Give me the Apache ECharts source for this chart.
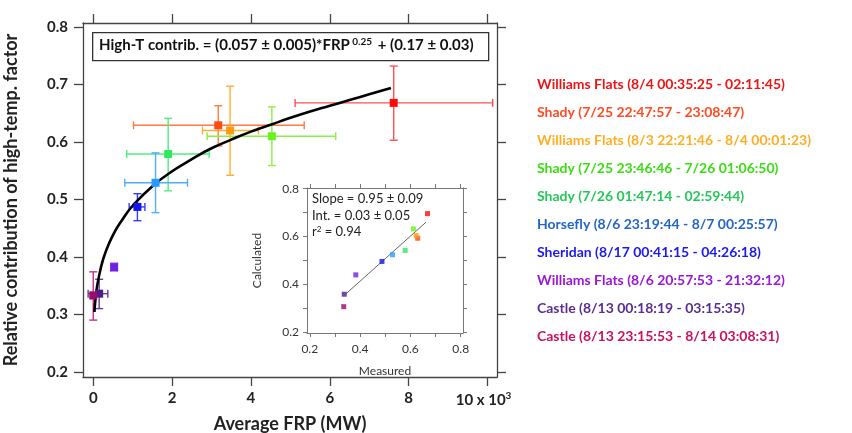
<!DOCTYPE html>
<html><head><meta charset="utf-8">
<script src="https://cdn.jsdelivr.net/npm/echarts@6/dist/echarts.min.js"></script>
<style>html,body{margin:0;padding:0;background:#fff}#c{width:852px;height:433px}</style>
</head><body><div id="c"></div>
<script>
const names = [
  'Williams Flats (8/4 00:35:25 - 02:11:45)',
  'Shady (7/25 22:47:57 - 23:08:47)',
  'Williams Flats (8/3 22:21:46 - 8/4 00:01:23)',
  'Shady (7/25 23:46:46 - 7/26 01:06:50)',
  'Shady (7/26 01:47:14 - 02:59:44)',
  'Horsefly (8/6 23:19:44 - 8/7 00:25:57)',
  'Sheridan (8/17 00:41:15 - 04:26:18)',
  'Williams Flats (8/6 20:57:53 - 21:32:12)',
  'Castle (8/13 00:18:19 - 03:15:35)',
  'Castle (8/13 23:15:53 - 8/14 03:08:31)'
];
const markerColors = ['#ff0a0a','#ff4a10','#ff9a10','#6cf020','#30e860','#2a98ff','#1414f0','#7020e0','#4e1c86','#9a0a6a'];
const barColors    = ['#ff5050','#ff7a45','#ffae35','#8cf048','#50ec80','#50acff','#3a3aff','#8a44ee','#6a3aa0','#c0308a'];
const legendColors = ['#ee1414','#ff4a22','#ffae22','#3ade12','#24c858','#2466c8','#1a1af0','#9a16d8','#5c2d91','#cc1060'];

// main panel: average FRP (x10^3 MW) and relative contribution
const frp      = [7.62, 3.17, 3.47, 4.53, 1.90, 1.58, 1.12, 0.53, 0.15, 0.00];
const frpLow   = [5.12, 1.02, 2.77, 2.89, 0.85, 0.80, 0.91, 0.46, -0.13, -0.06];
const frpHigh  = [10.13, 5.35, 4.19, 6.15, 2.94, 2.39, 1.31, 0.60, 0.37, 0.06];
const contrib     = [0.668, 0.629, 0.620, 0.610, 0.579, 0.529, 0.487, 0.382, 0.336, 0.333];
const contribLow  = [0.603, 0.593, 0.542, 0.559, 0.515, 0.477, 0.463, 0.376, 0.310, 0.290];
const contribHigh = [0.732, 0.663, 0.697, 0.661, 0.641, 0.581, 0.510, 0.389, 0.361, 0.374];

// fit curve
const curveX = [0.03, 0.05, 0.1, 0.2, 0.3, 0.5, 0.75, 1.0, 1.5, 2.0, 2.5, 3.0, 3.5, 4.0, 4.5, 5.0, 5.5, 6.0, 6.5, 7.0, 7.55];
const curveY = [0.304, 0.322, 0.350, 0.383, 0.406, 0.438, 0.466, 0.489, 0.523, 0.549, 0.570, 0.589, 0.604, 0.618, 0.630, 0.642, 0.653, 0.663, 0.673, 0.683, 0.694];

// inset: measured vs calculated
const measured   = [0.668, 0.629, 0.623, 0.612, 0.579, 0.529, 0.487, 0.383, 0.337, 0.335];
const calculated = [0.696, 0.593, 0.604, 0.632, 0.542, 0.524, 0.496, 0.440, 0.359, 0.307];
const regX = [0.344, 0.662];
const regY = [0.361, 0.660];

const xTicks = [0, 2, 4, 6, 8, 10];
const yTicks = [0.2, 0.3, 0.4, 0.5, 0.6, 0.7, 0.8];
const insetLabels = [0.2, 0.4, 0.6, 0.8];
const insetTicks = [0.2, 0.3, 0.4, 0.5, 0.6, 0.7, 0.8];

const FONT = 'Lato';
const chart = echarts.init(document.getElementById('c'), null, {renderer: 'canvas'});

const G = {left: 83, top: 23, right: 355, bottom: 56};
const GI = {left: 307, top: 188, width: 156, height: 145};

function mainAxisCommon(extra) {
  return Object.assign({
    axisLine: {show: true, onZero: false, lineStyle: {color: '#444', width: 1.3}},
    splitLine: {show: false}
  }, extra);
}
function insetAxisCommon(extra) {
  return Object.assign({
    axisLine: {show: true, onZero: false, lineStyle: {color: '#777', width: 1}},
    axisTick: {show: true, inside: false, length: 4, lineStyle: {color: '#777', width: 1}, customValues: insetTicks},
    splitLine: {show: false}
  }, extra);
}
const mainTick = vals => ({show: true, inside: false, length: 9, lineStyle: {color: '#444', width: 1.3}, customValues: vals});

const series = [];
// error bars
names.forEach((n, i) => {
  series.push({
    type: 'custom', name: n, xAxisIndex: 0, yAxisIndex: 0, clip: false, z: 3,
    data: [[frp[i], contrib[i], frpLow[i], frpHigh[i], contribLow[i], contribHigh[i]]],
    encode: {x: [0, 2, 3], y: [1, 4, 5]},
    renderItem: function (params, api) {
      const c = api.coord([api.value(0), api.value(1)]);
      const xl = api.coord([api.value(2), api.value(1)]);
      const xh = api.coord([api.value(3), api.value(1)]);
      const yl = api.coord([api.value(0), api.value(4)]);
      const yh = api.coord([api.value(0), api.value(5)]);
      const cap = 4;
      const st = {stroke: barColors[i], lineWidth: 1.4};
      const ln = (x1, y1, x2, y2) => ({type: 'line', shape: {x1, y1, x2, y2}, style: st});
      return {type: 'group', children: [
        ln(xl[0], c[1], xh[0], c[1]),
        ln(xl[0], c[1] - cap, xl[0], c[1] + cap),
        ln(xh[0], c[1] - cap, xh[0], c[1] + cap),
        ln(c[0], yl[1], c[0], yh[1]),
        ln(c[0] - cap, yl[1], c[0] + cap, yl[1]),
        ln(c[0] - cap, yh[1], c[0] + cap, yh[1])
      ]};
    }
  });
});
// fit curve
series.push({
  type: 'line', xAxisIndex: 0, yAxisIndex: 0, data: curveX.map((x, k) => [x, curveY[k]]),
  smooth: true, showSymbol: false, symbol: 'none', z: 4,
  lineStyle: {color: '#000', width: 2.6}
});
// markers
names.forEach((n, i) => {
  series.push({
    type: 'scatter', name: n, xAxisIndex: 0, yAxisIndex: 0, z: 5,
    symbol: 'rect', symbolSize: 8,
    itemStyle: {color: markerColors[i], opacity: 1},
    data: [[frp[i], contrib[i]]]
  });
});
// inset regression line
series.push({
  type: 'line', xAxisIndex: 2, yAxisIndex: 2, data: regX.map((x, k) => [x, regY[k]]),
  showSymbol: false, symbol: 'none', z: 6, lineStyle: {color: '#666', width: 1}
});
// inset points
series.push({
  type: 'scatter', xAxisIndex: 2, yAxisIndex: 2, symbol: 'rect', symbolSize: 5, z: 7,
  data: measured.map((m, i) => ({value: [m, calculated[i]], itemStyle: {color: markerColors[i]}}))
});

const option = {
  animation: false,
  backgroundColor: '#fff',
  textStyle: {fontFamily: FONT},
  grid: [
    Object.assign({show: true, backgroundColor: '#fff', borderWidth: 0, containLabel: false, outerBoundsMode: 'none'}, G),
    Object.assign({show: true, backgroundColor: '#fff', borderWidth: 0, containLabel: false, outerBoundsMode: 'none'}, GI)
  ],
  legend: {
    orient: 'vertical', left: 532, top: 77, padding: 0, itemGap: 14, itemWidth: 0, itemHeight: 14,
    icon: 'none', selectedMode: false,
    textStyle: {fontFamily: FONT, fontWeight: 'bold', fontSize: 14},
    data: names.map((n, i) => ({name: n, icon: 'none', textStyle: {color: legendColors[i]}}))
  },
  xAxis: [
    mainAxisCommon({
      type: 'value', gridIndex: 0, position: 'bottom', min: -0.26, max: 10.24,
      axisTick: mainTick(xTicks),
      axisLabel: {
        customValues: xTicks, margin: 14, color: '#222',
        fontFamily: FONT, fontWeight: 'bold', fontSize: 15,
        formatter: v => v === 10 ? '{a|10 x 10}{s|3}' : String(v),
        rich: {
          a: {fontFamily: FONT, fontWeight: 'bold', fontSize: 15, color: '#222'},
          s: {fontFamily: FONT, fontWeight: 'bold', fontSize: 10, color: '#222', verticalAlign: 'top', padding: [0, 8, 8, 0]}
        }
      },
      name: 'Average FRP (MW)', nameLocation: 'middle', nameGap: 38,
      nameTextStyle: {fontFamily: FONT, fontWeight: 'bold', fontSize: 18, color: '#222'}
    }),
    mainAxisCommon({
      type: 'value', gridIndex: 0, position: 'top', min: -0.26, max: 10.24,
      axisTick: mainTick(xTicks),
      axisLabel: {show: false}
    }),
    insetAxisCommon({
      type: 'value', gridIndex: 1, position: 'bottom', min: 0.189, max: 0.809,
      axisLabel: {customValues: insetLabels, margin: 10, color: '#333', fontFamily: FONT, fontSize: 12,
        formatter: v => v.toFixed(1)},
      name: 'Measured', nameLocation: 'middle', nameGap: 32,
      nameTextStyle: {fontFamily: FONT, fontSize: 12, color: '#333'}
    }),
    insetAxisCommon({
      type: 'value', gridIndex: 1, position: 'top', min: 0.189, max: 0.809,
      axisLabel: {show: false}
    })
  ],
  yAxis: [
    mainAxisCommon({
      type: 'value', gridIndex: 0, position: 'left', min: 0.191, max: 0.807,
      axisTick: mainTick(yTicks),
      axisLabel: {customValues: yTicks, margin: 15, color: '#222', fontFamily: FONT, fontWeight: 'bold', fontSize: 15,
        formatter: v => v.toFixed(1)},
      name: 'Relative contribution of high-temp. factor', nameLocation: 'middle', nameGap: 63,
      nameTextStyle: {fontFamily: FONT, fontWeight: 'bold', fontSize: 18, color: '#222'}
    }),
    mainAxisCommon({
      type: 'value', gridIndex: 0, position: 'right', min: 0.191, max: 0.807,
      axisTick: mainTick(yTicks),
      axisLabel: {show: false}
    }),
    insetAxisCommon({
      type: 'value', gridIndex: 1, position: 'left', min: 0.197, max: 0.803,
      axisLabel: {customValues: insetLabels, margin: 8, color: '#333', fontFamily: FONT, fontSize: 12,
        formatter: v => v.toFixed(1)},
      name: 'Calculated', nameLocation: 'middle', nameGap: 44,
      nameTextStyle: {fontFamily: FONT, fontSize: 12, color: '#333'}
    }),
    insetAxisCommon({
      type: 'value', gridIndex: 1, position: 'right', min: 0.197, max: 0.803,
      axisLabel: {show: false}
    })
  ],
  graphic: [
    {
      type: 'rect', left: 92, top: 32, z: 10,
      shape: {width: 396, height: 28},
      style: {fill: '#fff', stroke: '#333', lineWidth: 1.3}
    },
    {
      type: 'text', left: 99, top: 37, z: 11,
      style: {
        text: '{b|High-T contrib. = (0.057 ± 0.005)*FRP}{s| 0.25}{b| + (0.17 ± 0.03)}',
        rich: {
          b: {fontFamily: FONT, fontWeight: 'bold', fontSize: 15, fill: '#111'},
          s: {fontFamily: FONT, fontWeight: 'bold', fontSize: 10, fill: '#111', verticalAlign: 'top', padding: [0, 2, 6, 0]}
        }
      }
    },
    {
      type: 'text', left: 312, top: 192, z: 11,
      style: {text: 'Slope = 0.95 ± 0.09', fontFamily: FONT, fontSize: 13, fill: '#222'}
    },
    {
      type: 'text', left: 312, top: 209, z: 11,
      style: {text: 'Int. = 0.03 ± 0.05', fontFamily: FONT, fontSize: 13, fill: '#222'}
    },
    {
      type: 'text', left: 312, top: 225, z: 11,
      style: {text: '{a|r}{s|2}{a| = 0.94}', rich: {
        a: {fontFamily: FONT, fontSize: 13, fill: '#222'},
        s: {fontFamily: FONT, fontSize: 8, fill: '#222', verticalAlign: 'top', padding: [0, 0, 6, 0]}
      }}
    }
  ],
  series: series
};
chart.setOption(option);
</script>
</body></html>
